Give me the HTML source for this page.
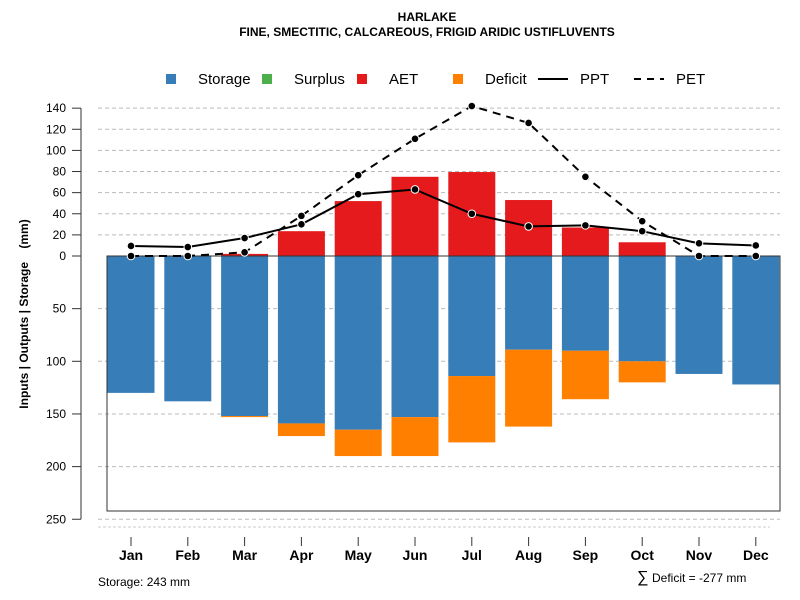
<!DOCTYPE html>
<html><head><meta charset="utf-8"><style>
body{margin:0;background:#fff}
svg{display:block;font-family:"Liberation Sans",Arial,sans-serif}
</style></head><body>
<svg id="c" width="800" height="600" xmlns="http://www.w3.org/2000/svg">
<text x="427" y="21" text-anchor="middle" font-size="12" font-weight="bold">HARLAKE</text>
<text x="427" y="36" text-anchor="middle" font-size="12" font-weight="bold">FINE, SMECTITIC, CALCAREOUS, FRIGID ARIDIC USTIFLUVENTS</text>
<g>
<g><rect x="166" y="74" width="10" height="10" fill="#377eb8"/><text x="198" y="84" font-size="15">Storage</text></g>
<g><rect x="262" y="74" width="10" height="10" fill="#4daf4a"/><text x="294" y="84" font-size="15">Surplus</text></g>
<g><rect x="357" y="74" width="10" height="10" fill="#e41a1c"/><text x="389" y="84" font-size="15">AET</text></g>
<g><rect x="453" y="74" width="10" height="10" fill="#ff7f00"/><text x="485" y="84" font-size="15">Deficit</text></g>
<g><line x1="538" y1="79" x2="568" y2="79" stroke="#000" stroke-width="2"/><text x="580" y="84" font-size="15">PPT</text></g>
<g><line x1="634" y1="79" x2="664" y2="79" stroke="#000" stroke-width="2" stroke-dasharray="7,6"/><text x="676" y="84" font-size="15">PET</text></g>
</g>
<text transform="translate(28,314) rotate(-90)" text-anchor="middle" font-size="12" font-weight="bold" style="white-space:pre" xml:space="preserve">Inputs | Outputs | Storage    (mm)</text>
<g id="grid"></g><g id="bars"></g>
<rect x="107" y="256" width="673" height="255" fill="none" stroke="#333" stroke-width="1"/>
<g id="lines"></g><g id="axes"></g>
<text x="98" y="586" font-size="12">Storage: 243 mm</text>
<text x="637" y="582" font-size="16">∑</text>
<text x="652" y="582" font-size="12">Deficit = -277 mm</text>
</svg>
<script>
const months=["Jan","Feb","Mar","Apr","May","Jun","Jul","Aug","Sep","Oct","Nov","Dec"];
const storage=[130,138,152,159,165,153,114,89,90,100,112,122];
const deficit=[0,0,1,12,25,37,63,73,46,20,0,0];
const aet=[0,0,2,23.5,52,75,79.5,53,27,13,0,0];
const ppt=[9.5,8.5,17,30,58.5,63,40,28,29,23.5,12,10];
const pet=[0,0,3.5,38,76.5,111,142,126,75,33,0,0];
const posTicks=[0,20,40,60,80,100,120,140];
const negTicks=[50,100,150,200,250];
const NS="http://www.w3.org/2000/svg";
const y0=256,k=1.056,kn=1.053;
const yP=v=>y0-v*k, yN=v=>y0+v*kn;
const xC=i=>131+i*56.8, bw=47;
function mk(t,a,p){const e=document.createElementNS(NS,t);for(const q in a)e.setAttribute(q,a[q]);p.appendChild(e);return e;}
const grid=document.getElementById('grid'),bars=document.getElementById('bars'),lines=document.getElementById('lines'),axes=document.getElementById('axes');
mk('line',{x1:81,y1:yP(140),x2:81,y2:yN(250),stroke:'#777','stroke-width':1.5},axes);
function tick(y,label,isZero){
  if(!isZero){const g=mk('line',{x1:98,y1:y,x2:780,y2:y,stroke:'#bbb','stroke-dasharray':'4,3'},grid);
  
  }
  mk('line',{x1:72,y1:y,x2:81,y2:y,stroke:'#333'},axes);
  const t=mk('text',{x:66,y:y+4,'text-anchor':'end','font-size':12},axes);t.textContent=label;
  
  
}
posTicks.forEach(v=>tick(yP(v),v,v===0));
negTicks.forEach(v=>tick(yN(v),v,false));
mk('line',{x1:98,y1:527,x2:770,y2:527,stroke:'#ccc','stroke-dasharray':'3,2'},grid);
months.forEach((m,i)=>{
  const x=xC(i);
  let r=mk('rect',{x:x-bw/2,y:y0,width:bw,height:storage[i]*kn,fill:'#377eb8'},bars);
  
  
  if(deficit[i]>0){r=mk('rect',{x:x-bw/2,y:yN(storage[i]),width:bw,height:deficit[i]*kn,fill:'#ff7f00'},bars);
  
  }
  if(aet[i]>0){r=mk('rect',{x:x-bw/2,y:yP(aet[i]),width:bw,height:aet[i]*k,fill:'#e41a1c'},bars);
  
  }
  mk('line',{x1:x,y1:537,x2:x,y2:546,stroke:'#333'},axes);
  const t=mk('text',{x:x,y:560,'text-anchor':'middle','font-size':14,'font-weight':'bold'},axes);t.textContent=m;
  
  
});
mk('line',{x1:107,y1:y0,x2:780,y2:y0,stroke:'#333'},lines);
function series(arr,name,dash){
  const pts=arr.map((v,i)=>xC(i)+','+yP(v)).join(' ');
  const pl=mk('polyline',{points:pts,fill:'none',stroke:'#000','stroke-width':2,'stroke-dasharray':dash},lines);
  
  
  arr.forEach((v,i)=>{const c=mk('circle',{cx:xC(i),cy:yP(v),r:3.8,fill:'#000',stroke:'#fff','stroke-width':1},lines);
  
  });
}
series(pet,'pet','8,6');
series(ppt,'ppt','none');
</script>
</body></html>
